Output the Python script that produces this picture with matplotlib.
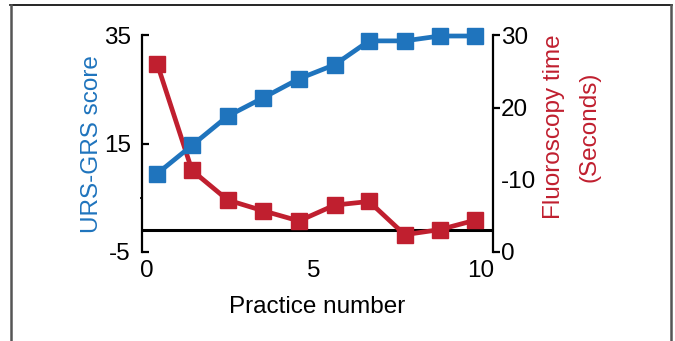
import matplotlib
matplotlib.use('Agg')
from matplotlib import pyplot as plt
from matplotlib.lines import Line2D

plt.rcParams['font.family'] = ['Liberation Sans', 'DejaVu Sans']
plt.rcParams['axes.unicode_minus'] = False

# practice sessions (positions)
practice = [0.31, 1.35, 2.42, 3.49, 4.56, 5.63, 6.66, 7.73, 8.78, 9.84]
urs_grs = [9.5, 14.7, 20.1, 23.5, 27.0, 29.6, 34.0, 34.0, 34.9, 34.9]
fluoro = [26.0, 11.3, 7.2, 5.7, 4.3, 6.5, 7.0, 2.4, 3.1, 4.4]

left_ticks = [-5, 15, 35]
right_ticks = [0, 10, 20, 30]
right_labels = ['0', '-10', '20', '30']
x_ticks = [0, 5, 10]

blue = '#1F74BD'
red = '#C01F2F'

fig = plt.figure(figsize=(6.75, 3.41), dpi=100)
ax = fig.add_axes([0.2104, 0.261, 0.5196, 0.635])
ax2 = ax.twinx()
ax.set_zorder(ax2.get_zorder() + 1)
ax.patch.set_visible(False)

ax2.axhline(3.1, color='black', lw=2.2, zorder=1)
ax2.plot(practice, fluoro, '-s', color=red, lw=3.4, ms=12, clip_on=False, zorder=3)
ax.plot(practice, urs_grs, '-s', color=blue, lw=3.4, ms=12, clip_on=False, zorder=3)

ax.set_xlim(-0.15, 10.37)
ax.set_ylim(-5, 35)
ax2.set_ylim(0, 30)

for a in (ax, ax2):
	for s in ('top', 'bottom'):
		a.spines[s].set_visible(False)
	a.spines['left'].set_linewidth(1.6)
	a.spines['right'].set_linewidth(1.6)
ax.spines['right'].set_visible(False)
ax2.spines['left'].set_visible(False)

fs = 17.5
ax.set_xticks(x_ticks)
ax.tick_params(axis='x', length=0, labelsize=fs, pad=6)
ax.set_yticks(left_ticks)
ax.set_yticks([5], minor=True)
ax.tick_params(axis='y', which='major', direction='in', length=5, width=1.6, labelsize=fs, pad=8)
ax.tick_params(axis='y', which='minor', direction='out', length=1.5, width=1.2)
ax2.set_yticks(right_ticks)
ax2.set_yticklabels(right_labels)
ax2.tick_params(axis='y', direction='out', length=5, width=1.6, labelsize=fs, pad=1)
ax2.yaxis.get_major_ticks()[1].tick2line.set_visible(False)

ax.set_xlabel('Practice number', fontsize=fs, labelpad=10)
ax.set_ylabel('URS-GRS score', fontsize=fs, color=blue, labelpad=1)
ax2.set_ylabel('Fluoroscopy time\n(Seconds)', fontsize=fs, color=red, labelpad=5, linespacing=1.75)
ax2.yaxis.label.set_y(0.577)

# frame around the figure
fig.add_artist(Line2D([10/675, 672/675], [1-4.5/341, 1-4.5/341], color='black', lw=1.2))
fig.add_artist(Line2D([11/675, 11/675], [0, 1-4.5/341], color='#555555', lw=1.8))
fig.add_artist(Line2D([671/675, 671/675], [0, 1-4.5/341], color='#555555', lw=1.8))

plt.savefig('out.png', dpi=100)
